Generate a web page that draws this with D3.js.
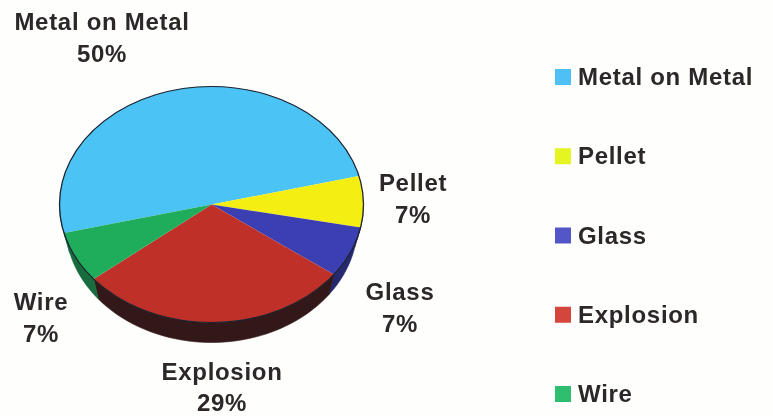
<!DOCTYPE html>
<html lang="en">
<head>
  <meta charset="UTF-8">
  <title>Pie chart</title>
  <script src="https://d3js.org/d3.v7.min.js"></script>
  <style>
    html, body { margin: 0; padding: 0; background: #fefefd; }
    svg { display: block; filter: blur(0.45px); }
    text { font-family: "Liberation Sans", Arial, sans-serif; font-weight: bold; fill: #2c2729; }
  </style>
</head>
<body>
<svg width="773" height="416"></svg>
<script>
  var categories = ['Metal on Metal', 'Pellet', 'Glass', 'Explosion', 'Wire'];
  var values = [50, 7, 7, 29, 7];
  var topColors = ['#4bc3f5', '#f4ee12', '#3b3fb2', '#bf3028', '#1fad5c'];
  var wallColors = ['#1d5a75', '#77741a', '#26296e', '#33181a', '#176b3c'];
  var legendColors = ['#4fc0f5', '#e4f522', '#5356c6', '#d4463c', '#2fbd70'];

  // hand placed, the labels do not follow a rule in the original
  var labelX = [102, 413, 400, 222, 41];
  var labelY = [30, 191, 300, 379.5, 310];

  var svg = d3.select('svg');
  var cx = 211.5, cy = 204.5, rx = 152, ry = 118;
  var depth = 20, rxBottom = 146;

  var slices = d3.pie()
    .sort(null)
    .value(function (d) { return d; })
    .startAngle(256 * Math.PI / 180)
    .endAngle((256 + 360) * Math.PI / 180)(values);

  // top and bottom rims of the drum, a is clockwise from 12 o'clock
  function rim(a, bottom) {
    return bottom
      ? [cx + rxBottom * Math.sin(a), cy + depth - ry * Math.cos(a)]
      : [cx + rx * Math.sin(a), cy - ry * Math.cos(a)];
  }

  function wallPath(s) {
    // slices past 12 o'clock have angles above 2pi
    var shift = s.startAngle >= 2 * Math.PI ? 2 * Math.PI : 0;
    var from = Math.max(s.startAngle - shift, Math.PI / 2);
    var to = Math.min(s.endAngle - shift, Math.PI * 1.5);
    if (to <= from) return null;
    var steps = d3.range(0, 41).map(function (i) {
      return from + (to - from) * i / 40;
    });
    var pts = steps.map(function (a) { return rim(a, false); })
      .concat(steps.slice().reverse().map(function (a) { return rim(a, true); }));
    return d3.line()(pts) + 'Z';
  }

  svg.append('g').selectAll('path')
    .data(slices)
    .join('path')
    .attr('d', wallPath)
    .attr('fill', function (d, i) { return wallColors[i]; })
    .attr('stroke', function (d, i) { return wallColors[i]; })
    .attr('stroke-width', 0.6);

  var arc = d3.arc().innerRadius(0).outerRadius(rx);
  var face = svg.append('g')
    .attr('transform', 'translate(' + cx + ',' + cy + ') scale(1,' + (ry / rx) + ')');

  face.selectAll('path')
    .data(slices)
    .join('path')
    .attr('d', arc)
    .attr('fill', function (d, i) { return topColors[i]; });

  face.append('ellipse')
    .attr('rx', rx)
    .attr('ry', rx)
    .attr('fill', 'none')
    .attr('stroke', '#1c2430')
    .attr('stroke-width', 1.3);

  // slice labels
  var labels = svg.append('g').selectAll('text')
    .data(categories)
    .join('text')
    .attr('text-anchor', 'middle')
    .attr('font-size', 24)
    .attr('letter-spacing', 0.7)
    .attr('transform', function (d, i) {
      return 'translate(' + labelX[i] + ',' + labelY[i] + ')';
    });
  labels.append('tspan').attr('x', 0).text(function (d) { return d; });
  labels.append('tspan').attr('x', 0).attr('dy', 31.5)
    .text(function (d, i) { return values[i] + '%'; });

  // legend
  var legendY = d3.scalePoint().domain(categories).range([77, 394]);
  var legend = svg.append('g').selectAll('g')
    .data(categories)
    .join('g')
    .attr('transform', function (d) { return 'translate(555,' + legendY(d) + ')'; });
  legend.append('rect')
    .attr('y', -8)
    .attr('width', 16)
    .attr('height', 16)
    .attr('fill', function (d, i) { return legendColors[i]; });
  legend.append('text')
    .attr('x', 23)
    .attr('y', 8)
    .attr('font-size', 24)
    .attr('letter-spacing', 0.7)
    .text(function (d) { return d; });
</script>
</body>
</html>
